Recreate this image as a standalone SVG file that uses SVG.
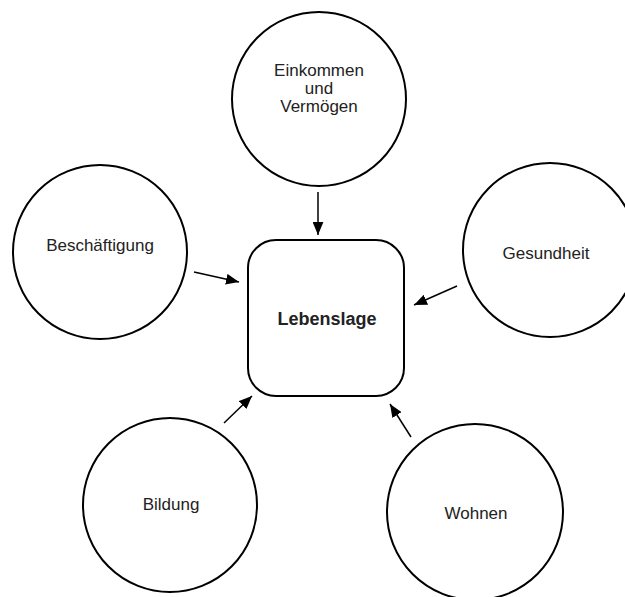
<svg xmlns="http://www.w3.org/2000/svg" width="625" height="597" viewBox="0 0 625 597">
<style>
.node{fill:#fff;stroke:#000;stroke-width:2}
.lbl{font-family:"Liberation Sans",Arial,sans-serif;font-size:17px;fill:#222;text-anchor:middle}
.bold{font-weight:bold;font-size:18px}
.conn line{stroke:#000;stroke-width:1.5;marker-end:url(#ah)}
</style>
<defs>
<marker id="ah" viewBox="0 0 12 10" refX="12" refY="5" markerWidth="13" markerHeight="11" markerUnits="userSpaceOnUse" orient="auto">
<path d="M0,0 L12,5 L0,10 z" fill="#000"/>
</marker>
</defs>
<rect width="625" height="597" fill="#fff"/>
<g id="einkommen">
<circle class="node" cx="319" cy="99" r="87"/>
<text class="lbl" x="319" y="76">Einkommen</text>
<text class="lbl" x="319" y="94">und</text>
<text class="lbl" x="319" y="112">Vermögen</text>
</g>
<g id="beschaeftigung">
<circle class="node" cx="100" cy="252" r="87"/>
<text class="lbl" x="100" y="251">Beschäftigung</text>
</g>
<g id="gesundheit">
<circle class="node" cx="550" cy="250" r="87"/>
<text class="lbl" x="546" y="259">Gesundheit</text>
</g>
<g id="bildung">
<circle class="node" cx="170" cy="505" r="87"/>
<text class="lbl" x="171" y="510">Bildung</text>
</g>
<g id="wohnen">
<circle class="node" cx="475" cy="512" r="88"/>
<text class="lbl" x="476" y="519">Wohnen</text>
</g>
<g id="lebenslage">
<rect class="node" x="248" y="240" width="156" height="156" rx="28" ry="28"/>
<text class="lbl bold" x="327" y="325">Lebenslage</text>
</g>
<g id="connectors" class="conn">
<line x1="318" y1="192" x2="318" y2="235"/>
<line x1="194" y1="272" x2="239" y2="282"/>
<line x1="457" y1="286" x2="414" y2="305"/>
<line x1="224" y1="423" x2="252" y2="396"/>
<line x1="411" y1="437" x2="390" y2="404"/>
</g>
</svg>
